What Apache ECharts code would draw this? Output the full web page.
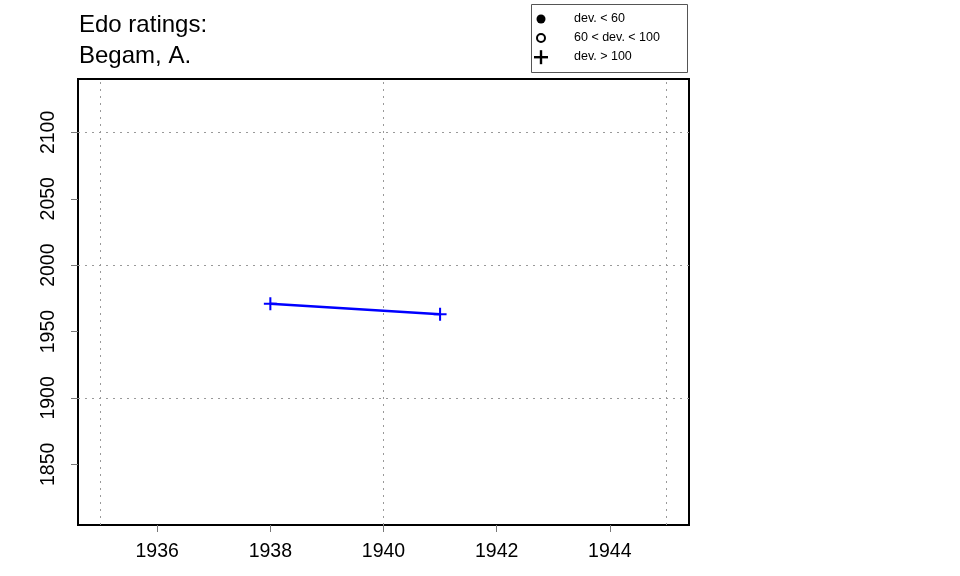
<!DOCTYPE html>
<html><head><meta charset="utf-8">
<script src="https://cdn.jsdelivr.net/npm/echarts@6/dist/echarts.min.js"></script>
<style>html,body{margin:0;padding:0;background:#fff}#c{width:960px;height:576px}</style>
</head><body><div id="c"></div>
<script>
const years = [1938, 1941];
const ratings = [1971, 1963];
const xTicks = [1936, 1938, 1940, 1942, 1944];
const yTicks = [1850, 1900, 1950, 2000, 2050, 2100];
const xGrid = [1935, 1940, 1945];
const yGrid = [1900, 2000, 2100];
const legendLabels = ['dev. < 60', '60 < dev. < 100', 'dev. > 100'];
const titleLines = ['Edo ratings:', 'Begam, A.'];

const FONT = 'Liberation Sans, Arial, sans-serif';
const chart = echarts.init(document.getElementById('c'), null, {renderer: 'canvas'});
const plus = 'path://M-7,-1.1H7V1.1H-7Z M-1.1,-7H1.1V7H-1.1Z';
const gridStyle = {color: '#999', width: 1, type: [2, 5]};

const legendGraphics = [
  {type: 'rect', shape: {x: 531.5, y: 4.5, width: 156, height: 68}, style: {fill: '#fff', stroke: '#555', lineWidth: 1}},
  {type: 'circle', shape: {cx: 541, cy: 19, r: 4.5}, style: {fill: '#000'}},
  {type: 'circle', shape: {cx: 541, cy: 38, r: 4}, style: {fill: 'none', stroke: '#000', lineWidth: 2}},
  {type: 'rect', shape: {x: 534, y: 56, width: 14, height: 2.4}, style: {fill: '#000'}},
  {type: 'rect', shape: {x: 539.8, y: 50.2, width: 2.4, height: 14}, style: {fill: '#000'}}
];
legendLabels.forEach((t, i) => {
  legendGraphics.push({type: 'text', x: 574, y: 19 + i * 19, style: {text: t, font: '12.5px ' + FONT, fill: '#000', textVerticalAlign: 'middle'}});
});

chart.setOption({
  animation: false,
  title: {text: titleLines.join('\n'), left: 74, top: 5, textStyle: {fontSize: 24, fontWeight: 'normal', color: '#000', fontFamily: FONT, lineHeight: 31}},
  grid: {left: 78, right: 271, top: 79, bottom: 51, show: true, borderColor: '#000', borderWidth: 2, backgroundColor: 'transparent'},
  xAxis: {
    type: 'value', min: 1934.6, max: 1945.4,
    axisLine: {show: false},
    splitLine: {show: false},
    axisTick: {show: true, length: 7, lineStyle: {color: '#777'}, customValues: xTicks},
    axisLabel: {customValues: xTicks, formatter: v => String(v), fontSize: 19.5, color: '#000', fontFamily: FONT, margin: 17}
  },
  yAxis: {
    type: 'value', min: 1804.3, max: 2140.2,
    axisLine: {show: false},
    splitLine: {show: false},
    axisTick: {show: true, length: 7, lineStyle: {color: '#777'}, customValues: yTicks},
    axisLabel: {customValues: yTicks, formatter: v => String(v), fontSize: 19.5, color: '#000', fontFamily: FONT, rotate: 90, margin: 19}
  },
  graphic: legendGraphics,
  series: [{
    type: 'line',
    data: years.map((y, i) => [y, ratings[i]]),
    lineStyle: {color: '#0000ff', width: 2.5},
    itemStyle: {color: '#0000ff'},
    symbol: plus, symbolSize: 13, showSymbol: true,
    markLine: {
      silent: true, symbol: 'none', label: {show: false},
      lineStyle: gridStyle,
      data: xGrid.map(v => ({xAxis: v})).concat(yGrid.map(v => ({yAxis: v})))
    },
    z: 5
  }]
});
</script></body></html>
